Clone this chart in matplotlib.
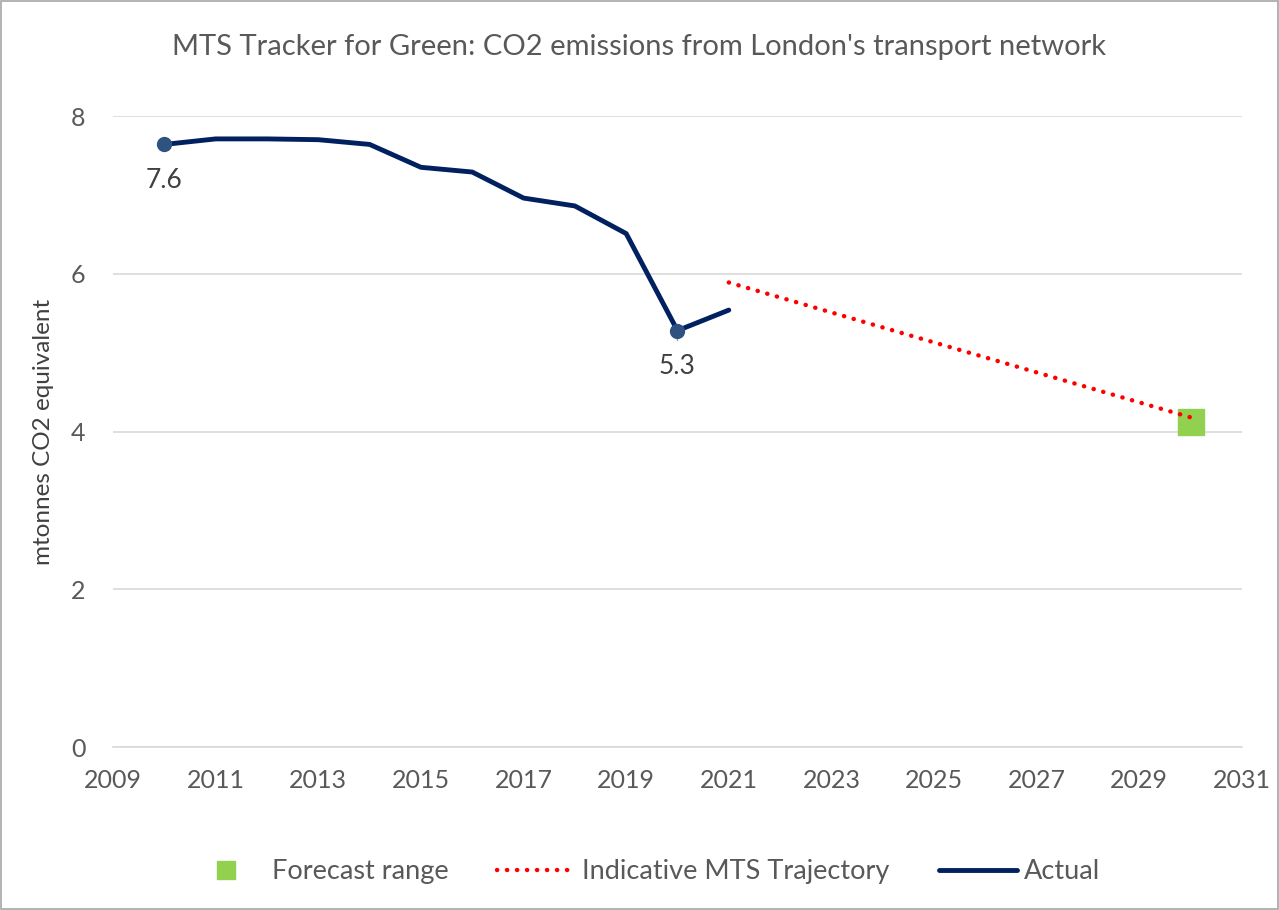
import matplotlib
matplotlib.use("Agg")
import matplotlib.pyplot as plt
from matplotlib.lines import Line2D
from matplotlib.patches import Rectangle

years = [2010, 2011, 2012, 2013, 2014, 2015, 2016, 2017, 2018, 2019, 2020, 2021]
actual = [7.64, 7.71, 7.71, 7.70, 7.64, 7.35, 7.29, 6.96, 6.86, 6.51, 5.28, 5.54]
traj_years = [2021, 2030]
traj_values = [5.89, 4.18]
forecast_year = [2030]
forecast_value = [4.12]
labelled_years = [2010, 2020]
labelled_text = ["7.6", "5.3"]

plt.rcParams['font.family'] = ['Lato', 'DejaVu Sans']
txt = '#595959'
dotted = (0, (0.05, 2.2))

fig = plt.figure(figsize=(12.79, 9.10), dpi=100)
ax = fig.add_axes([0.0884, 0.179, 0.8826, 0.6935])

ax.plot(years, actual, color='#002060', lw=3.5, solid_capstyle='round', zorder=3)
for yr, t in zip(labelled_years, labelled_text):
    v = actual[years.index(yr)]
    ax.plot([yr], [v], 'o', color='#2F5381', ms=10, zorder=4)
    ax.annotate(t, (yr, v), xytext=(0, -17), textcoords='offset points',
                ha='center', va='top', fontsize=19, color='#404040')
ax.plot([2020, 2020], [actual[10], actual[10] - 0.12], color='#a6a6a6', lw=1, zorder=3.5)

ax.plot(traj_years, traj_values, color='#FF0000', lw=3.2, ls=dotted,
        dash_capstyle='round', zorder=3)
ax.plot(forecast_year, forecast_value, 's', color='#92D050', ms=19, zorder=2)

ax.set_xlim(2009, 2031)
ax.set_ylim(0, 8)
ax.set_xticks(range(2009, 2032, 2))
ax.set_yticks([0, 2, 4, 6, 8])
ax.grid(axis='y', color='#d9d9d9', lw=1.2)
ax.set_axisbelow(True)
for s in ['top', 'right', 'left']:
    ax.spines[s].set_visible(False)
ax.spines['bottom'].set_color('#d9d9d9')
ax.spines['bottom'].set_linewidth(1.2)
ax.tick_params(length=0, labelsize=18, labelcolor=txt)
ax.tick_params(axis='x', pad=16)
ax.tick_params(axis='y', pad=20)
ax.set_ylabel('mtonnes CO2 equivalent', fontsize=17.5, color='#404040', labelpad=12)

fig.text(0.5, 0.948, "MTS Tracker for Green: CO2 emissions from London's transport network",
         ha='center', va='center', fontsize=21, color=txt)

handles = [
    Line2D([], [], marker='s', color='#92D050', ls='none', ms=13),
    Line2D([], [], color='#FF0000', lw=3.2, ls=dotted, dash_capstyle='round'),
    Line2D([], [], color='#002060', lw=3.5, solid_capstyle='round'),
]
fig.legend(handles, ['Forecast range', 'Indicative MTS Trajectory', 'Actual'],
           loc='center', bbox_to_anchor=(0.503, 0.042), ncol=3, frameon=False,
           fontsize=19.5, labelcolor=txt, handlelength=2.9, columnspacing=1.8,
           handletextpad=0.25)

fig.patches.append(Rectangle((0.0008, 0.0011), 0.9984, 0.9978, transform=fig.transFigure,
                             fill=False, edgecolor='#a6a6a6', lw=1.2))

fig.savefig('out.png', dpi=100, facecolor='white')
